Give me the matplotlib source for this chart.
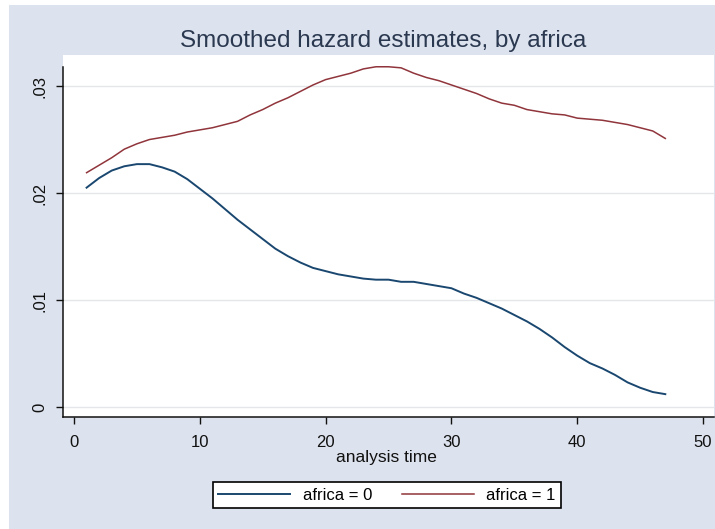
import matplotlib
matplotlib.use("Agg")
import matplotlib.pyplot as plt
from matplotlib.patches import Rectangle

plt.rcParams['font.family'] = ['Liberation Sans', 'DejaVu Sans']

# analysis time and smoothed hazard
times = list(range(1, 48))
hazard_africa0 = [.0205, .0214, .0221, .0225, .0227, .0227, .0224, .0220, .0213, .0204,
                  .0195, .0185, .0175, .0166, .0157, .0148, .0141, .0135, .0130, .0127,
                  .0124, .0122, .0120, .0119, .0119, .0117, .0117, .0115, .0113, .0111,
                  .0106, .0102, .0097, .0092, .0086, .0080, .0073, .0065, .0056, .0048,
                  .0041, .0036, .0030, .0023, .0018, .0014, .0012]
hazard_africa1 = [.0219, .0226, .0233, .0241, .0246, .0250, .0252, .0254, .0257, .0259,
                  .0261, .0264, .0267, .0273, .0278, .0284, .0289, .0295, .0301, .0306,
                  .0309, .0312, .0316, .0318, .0318, .0317, .0312, .0308, .0305, .0301,
                  .0297, .0293, .0288, .0284, .0282, .0278, .0276, .0274, .0273, .0270,
                  .0269, .0268, .0266, .0264, .0261, .0258, .0251]

x_ticks = [0, 10, 20, 30, 40, 50]
y_ticks = [0, .01, .02, .03]
y_tick_labels = ['0', '.01', '.02', '.03']

bg = '#dde3ee'
navy = '#1a476f'
maroon = '#90353b'

W, H = 715, 529
fig = plt.figure(figsize=(W / 100, H / 100), dpi=100, facecolor='white')
# outer background (thin white strip top/left like the screenshot)
fig.patches.append(Rectangle((9 / W, 0), 1 - 9 / W, 1 - 5 / H, transform=fig.transFigure,
                             facecolor=bg, edgecolor='none', zorder=-10))

ax = fig.add_axes([63 / W, 1 - 417 / H, (714 - 63) / W, (417 - 55) / H])
ax.set_facecolor('white')

ax.plot(times, hazard_africa0, color=navy, lw=1.4, label='africa = 0')
ax.plot(times, hazard_africa1, color=maroon, lw=1.1, label='africa = 1')

ax.set_xlim(-0.874, 50.87)
ax.set_ylim(-0.000935, 0.0329)
ax.set_xticks(x_ticks)
ax.set_yticks(y_ticks)
ax.set_yticklabels(y_tick_labels)

ax.grid(axis='y', color='#e4e6ea', lw=1.0)
ax.set_axisbelow(True)

for s in ['top', 'right']:
    ax.spines[s].set_visible(False)
for s in ['left', 'bottom']:
    ax.spines[s].set_color('#111111')
    ax.spines[s].set_linewidth(1.1)
ax.spines['left'].set_bounds(-0.000935, 0.03178)

ax.tick_params(axis='both', direction='out', length=5, width=1.0, color='#111111',
               labelsize=12, labelcolor='#111111')
ax.tick_params(axis='x', pad=8)
ax.tick_params(axis='y', pad=6, labelrotation=90)
for lab in ax.get_yticklabels():
    lab.set_va('center')

fig.text(383 / W, 1 - 47 / H, 'Smoothed hazard estimates, by africa', ha='center',
         va='baseline', fontsize=17.5, color='#2a3850')
fig.text(386 / W, 1 - 462 / H, 'analysis time', ha='center', va='baseline',
         fontsize=12.5, color='#111111')

leg = fig.legend(loc='center', bbox_to_anchor=(387 / W, 1 - 495 / H), ncol=2,
                 fontsize=12, handlelength=4.3, handletextpad=0.75, columnspacing=1.8,
                 fancybox=False, framealpha=1, borderpad=0.35)
leg.get_frame().set_edgecolor('black')
leg.get_frame().set_linewidth(1.2)

fig.savefig('out.png', dpi=100, facecolor=fig.get_facecolor())
